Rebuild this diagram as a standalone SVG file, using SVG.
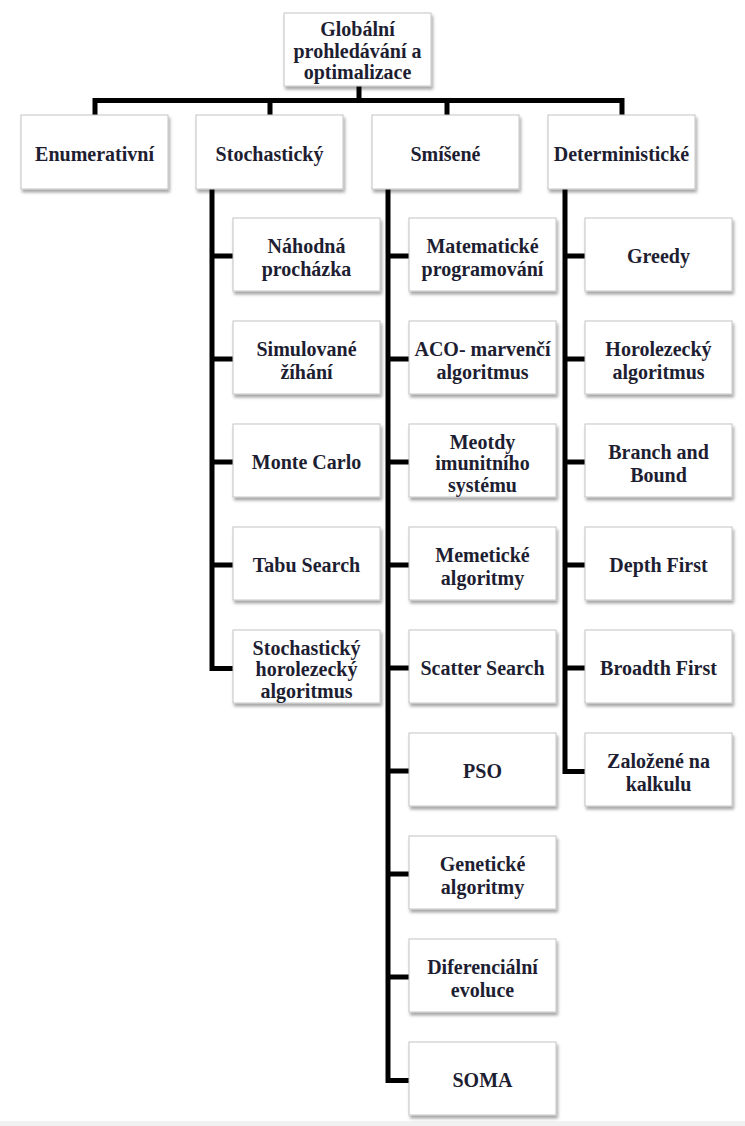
<svg xmlns="http://www.w3.org/2000/svg" width="745" height="1126" viewBox="0 0 745 1126">
<defs>
<filter id="sh" x="-10%" y="-10%" width="125%" height="130%">
<feDropShadow dx="1.5" dy="3" stdDeviation="1.6" flood-color="#000" flood-opacity="0.35"/>
</filter>
</defs>
<style>
.box{fill:#fff;stroke:#c4c4c4;stroke-width:1;filter:url(#sh)}
.t{font-family:"Liberation Serif","Times New Roman",serif;font-weight:bold;font-size:20px;fill:#1e1e32;text-anchor:middle}
.c{fill:none;stroke:#000;stroke-width:5;stroke-linejoin:miter;stroke-linecap:butt}
</style>
<rect x="0" y="0" width="745" height="1126" fill="#fff"/>
<rect x="0" y="1121" width="745" height="5" fill="#f1f1f1"/>
<g id="connectors">
<path class="c" d="M359 86V100.5M95 115V100.5H622V115M270 100.5V115M447 100.5V115"/>
<path class="c" d="M212 189V668.5H233M212 256H233M212 359H233M212 462H233M212 565H233"/>
<path class="c" d="M388 189V1080.5H409M388 256H409M388 359H409M388 462H409M388 565H409M388 668H409M388 771H409M388 874H409M388 977H409"/>
<path class="c" d="M565 189V771.5H585M565 256H585M565 359H585M565 462H585M565 565H585M565 668H585"/>
</g>
<g id="root"><rect class="box" x="284" y="13" width="147" height="73"/><text class="t" x="357.5" y="36">Globální</text><text class="t" x="357.5" y="57.5">prohledávání  a</text><text class="t" x="357.5" y="79">optimalizace</text></g>
<g id="enumerativni"><rect class="box" x="21" y="115" width="147" height="74"/><text class="t" x="94.5" y="161">Enumerativní</text></g>
<g id="stochasticky"><rect class="box" x="196" y="115" width="147" height="74"/><text class="t" x="269.5" y="161">Stochastický</text></g>
<g id="smisene"><rect class="box" x="372" y="115" width="147" height="74"/><text class="t" x="445.5" y="161">Smíšené</text></g>
<g id="deterministicke"><rect class="box" x="548" y="115" width="147" height="74"/><text class="t" x="621.5" y="161">Deterministické</text></g>

<g id="nahodna"><rect class="box" x="233" y="218" width="147" height="73"/><text class="t" x="306.5" y="253">Náhodná</text><text class="t" x="306.5" y="276">procházka</text></g>
<g id="simulovane"><rect class="box" x="233" y="321" width="147" height="73"/><text class="t" x="306.5" y="356">Simulované</text><text class="t" x="306.5" y="379">žíhání</text></g>
<g id="montecarlo"><rect class="box" x="233" y="424" width="147" height="73"/><text class="t" x="306.5" y="469">Monte Carlo</text></g>
<g id="tabu"><rect class="box" x="233" y="527" width="147" height="73"/><text class="t" x="306.5" y="572">Tabu Search</text></g>
<g id="stochhorol"><rect class="box" x="233" y="630" width="147" height="73"/><text class="t" x="306.5" y="654.5">Stochastický</text><text class="t" x="306.5" y="676">horolezecký</text><text class="t" x="306.5" y="697.5">algoritmus</text></g>

<g id="matematicke"><rect class="box" x="409" y="218" width="147" height="73"/><text class="t" x="482.5" y="253">Matematické</text><text class="t" x="482.5" y="276">programování</text></g>
<g id="aco"><rect class="box" x="409" y="321" width="147" height="73"/><text class="t" x="482.5" y="356">ACO- marvenčí</text><text class="t" x="482.5" y="379">algoritmus</text></g>
<g id="imunitni"><rect class="box" x="409" y="424" width="147" height="73"/><text class="t" x="482.5" y="448.5">Meotdy</text><text class="t" x="482.5" y="470">imunitního</text><text class="t" x="482.5" y="491.5">systému</text></g>
<g id="memeticke"><rect class="box" x="409" y="527" width="147" height="73"/><text class="t" x="482.5" y="562">Memetické</text><text class="t" x="482.5" y="585">algoritmy</text></g>
<g id="scatter"><rect class="box" x="409" y="630" width="147" height="73"/><text class="t" x="482.5" y="675">Scatter Search</text></g>
<g id="pso"><rect class="box" x="409" y="733" width="147" height="73"/><text class="t" x="482.5" y="778">PSO</text></g>
<g id="geneticke"><rect class="box" x="409" y="836" width="147" height="73"/><text class="t" x="482.5" y="871">Genetické</text><text class="t" x="482.5" y="894">algoritmy</text></g>
<g id="diferencialni"><rect class="box" x="409" y="939" width="147" height="73"/><text class="t" x="482.5" y="974">Diferenciální</text><text class="t" x="482.5" y="997">evoluce</text></g>
<g id="soma"><rect class="box" x="409" y="1042" width="147" height="73"/><text class="t" x="482.5" y="1087">SOMA</text></g>

<g id="greedy"><rect class="box" x="585" y="218" width="147" height="73"/><text class="t" x="658.5" y="263">Greedy</text></g>
<g id="horolezecky"><rect class="box" x="585" y="321" width="147" height="73"/><text class="t" x="658.5" y="356">Horolezecký</text><text class="t" x="658.5" y="379">algoritmus</text></g>
<g id="branch"><rect class="box" x="585" y="424" width="147" height="73"/><text class="t" x="658.5" y="459">Branch and</text><text class="t" x="658.5" y="482">Bound</text></g>
<g id="depth"><rect class="box" x="585" y="527" width="147" height="73"/><text class="t" x="658.5" y="572">Depth First</text></g>
<g id="broadth"><rect class="box" x="585" y="630" width="147" height="73"/><text class="t" x="658.5" y="675">Broadth First</text></g>
<g id="zalozene"><rect class="box" x="585" y="733" width="147" height="73"/><text class="t" x="658.5" y="768">Založené na</text><text class="t" x="658.5" y="791">kalkulu</text></g>
</svg>
